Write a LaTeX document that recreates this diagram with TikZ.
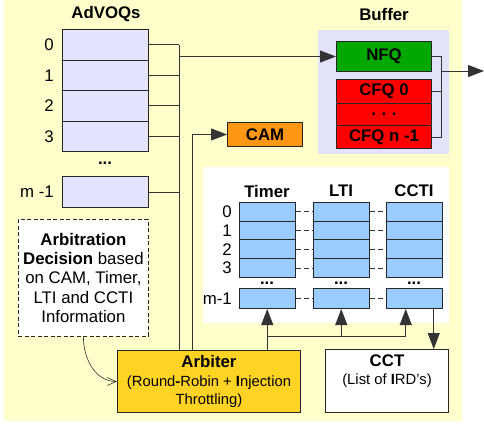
\documentclass[tikz,border=0pt]{standalone}
\usepackage{fontspec}
\setmainfont{Liberation Sans}
\usetikzlibrary{arrows, arrows.meta}
\usetikzlibrary{calc}

\definecolor{bgyellow}{RGB}{255,255,204}
\definecolor{voqblue}{RGB}{228,228,255}
\definecolor{bufblue}{RGB}{226,226,250}
\definecolor{nfqgreen}{RGB}{0,168,0}
\definecolor{camorange}{RGB}{255,150,20}
\definecolor{tabblue}{RGB}{153,204,255}
\definecolor{arbgold}{RGB}{255,211,35}

\begin{document}
\begin{tikzpicture}[x=1pt, y=-1pt,
    font=\fontsize{16.8}{19.3}\selectfont,
    box/.style={draw=black!85, line width=1pt, inner sep=0pt, anchor=north west},
    voq/.style={box, fill=voqblue, minimum width=86pt, minimum height=30.5pt},
    tabcell/.style={box, fill=tabblue, minimum width=55.5pt, minimum height=18.7pt},
    qcell/.style={box, minimum width=95pt, font=\fontsize{16.8}{19.3}\selectfont\bfseries},
    rowlabel/.style={anchor=east, inner sep=0pt},
    title/.style={font=\fontsize{16.8}{19.3}\selectfont\bfseries},
    wire/.style={line width=0.9pt, black!80},
    arrow/.style={wire, -{Triangle[length=16pt,width=12pt]}}]

  % background
  \useasboundingbox (0,0) rectangle (484,423);
  \fill[white] (0,0) rectangle (484,423);
  \fill[bgyellow] (4,0) rectangle (462,421);
  \fill[bufblue] (318,30) rectangle (449,154);
  \fill[white] (203,167) rectangle (449,323);

  % AdVOQs
  \node[title] (voqtitle) at (106,14) {AdVOQs};
  \foreach \n/\y in {0/29, 1/59.5, 2/90, 3/120.5}{
    \node[voq] (q\n) at (62,\y) {};
    \node[rowlabel] (q\n lbl) at ([xshift=-8pt]q\n.west) {\n};
  }
  \node[title] (qdots) at (105,163) {...};
  \node[voq, minimum height=31pt] (qm) at (62,176) {};
  \node[rowlabel] (qm lbl) at ([xshift=-8pt]qm.west) {m -1};

  % buffer
  \node[title] (buftitle) at (384,14) {Buffer};
  \node[qcell, fill=nfqgreen, minimum height=30pt] (nfq) at (336,41) {NFQ};
  \node[qcell, fill=red, minimum height=24pt] (cfq0) at (336,79) {CFQ 0};
  \node[qcell, fill=red, minimum height=22pt] (cfqdots) at (336,103) {.\,\,.\,\,.};
  \node[qcell, fill=red, minimum height=23pt] (cfqn) at (336,125) {CFQ n -1};

  \node[box, fill=camorange, minimum width=75pt, minimum height=24pt,
    font=\fontsize{16.8}{19.3}\selectfont\bfseries] (cam) at (227,122) {CAM};

  % timer / LTI / CCTI tables
  \foreach \col/\x/\name in {tim/239/Timer, lti/313/LTI, cct/386/CCTI}{
    \node[title] (\col title) at (\x+28,191) {\name};
    \foreach \r/\y in {0/202, 1/220.7, 2/239.4, 3/258.1}
      \node[tabcell] (\col\r) at (\x,\y) {};
    \node[title] (\col dots) at (\x+28,283) {...};
    \node[tabcell, minimum height=20pt] (\col m) at (\x,288) {};
  }
  \foreach \r in {0,1,2,3}
    \node[rowlabel] (tim\r lbl) at ([xshift=-7pt]tim\r.west) {\r};
  \node[rowlabel] (timm lbl) at ([xshift=-7pt]timm.west) {m-1};
  \foreach \r in {0,1,2,3,m}{
    \draw[wire, dash pattern=on 5pt off 3pt] (tim\r.east) -- (lti\r.west);
    \draw[wire, dash pattern=on 5pt off 3pt] (lti\r.east) -- (cct\r.west);
  }

  % arbiter, CCT and decision note
  \node[box, fill=arbgold, minimum width=183pt, minimum height=62pt, align=center,
    font=\fontsize{14.8}{18.5}\selectfont] (arb) at (117,350)
    {{\fontsize{16.8}{18.5}\selectfont\bfseries Arbiter}\\(Round\textbf{-}Robin + \textbf{I}njection\\Throttling)};
  \node[box, fill=white, minimum width=123pt, minimum height=63pt, align=center,
    font=\fontsize{14.8}{18.5}\selectfont] (cct) at (325,349)
    {{\fontsize{16.8}{18.5}\selectfont\bfseries CCT}\\(List of \textbf{I}RD's)\\[4pt]};
  \node[box, fill=white, dash pattern=on 4pt off 2.5pt, line width=0.8pt,
    minimum width=130pt, minimum height=117pt, align=center] (dec) at (18,219)
    {\textbf{Arbitration}\\\textbf{Decision} based\\on CAM, Timer,\\LTI and CCTI\\Information};

  % AdVOQ outputs onto the bus
  \coordinate (bus) at (179,0);
  \coordinate (camlink) at (192,0);
  \foreach \n in {0,1,2,3,m}
    \draw[wire] (q\n.east) -- (q\n.east -| bus);
  \draw[wire] (bus |- q0.east) -- (bus |- arb.north);
  \draw[arrow] (bus |- nfq.west) -- (nfq.west);
  \draw[arrow] (arb.north -| camlink) |- (cam.west);

  % buffer output
  \coordinate (merge) at (441,0);
  \coordinate (out) at (484,71);
  \draw[wire] (nfq.east) -| (merge |- cfqn.east) -- (cfqn.east);
  \draw[wire] (cfq0.east) -- (cfq0.east -| merge);
  \draw[arrow] (merge |- out) -- (out);

  % arbiter to the tables
  \coordinate (split) at (267,336);
  \draw[arrow] (arb.north -| timm.south) -- (timm.south);
  \draw[wire] (split) -- ([xshift=-8.5pt]split -| cctm.south);
  \draw[arrow] (split -| ltim.south) -- (ltim.south);
  \draw[arrow] ([xshift=-8.5pt]split -| cctm.south) -- ([xshift=-8.5pt]cctm.south);
  \draw[arrow] ([xshift=19.5pt]cctm.south) -- ([xshift=19.5pt]cctm.south |- cct.north);

  % decision note into the arbiter
  \draw[line width=0.6pt, black!80, -{Straight Barb[length=9pt,width=8pt]}]
    (dec.south) to[out=-90, in=180] (arb.west);
\end{tikzpicture}
\end{document}
